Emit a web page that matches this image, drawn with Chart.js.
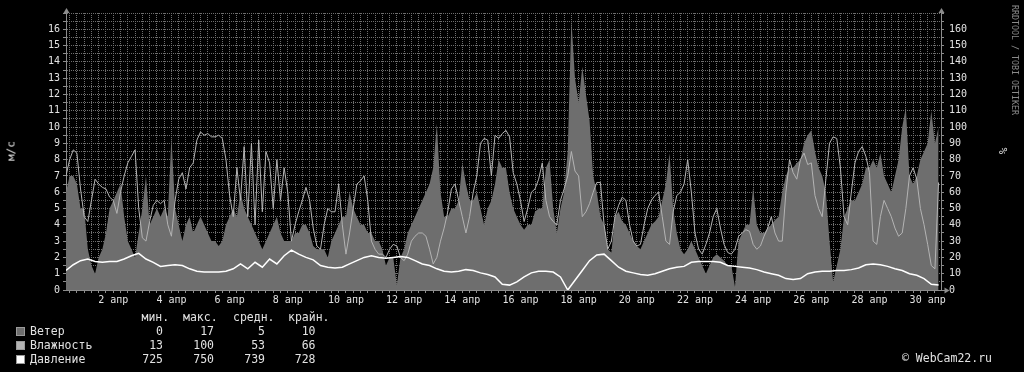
<!DOCTYPE html>
<html>
<head>
<meta charset="utf-8">
<style>
  html, body { margin: 0; padding: 0; background: #000; }
  #wrap { position: relative; width: 1024px; height: 372px; overflow: hidden;
          font-family: "DejaVu Sans Mono", monospace; color: #e2e2e2; }
  #wrap canvas { position: absolute; left: 0; top: 0; }
  .t { position: absolute; white-space: pre; font-size: 11.5px; line-height: 14px; }
  .num { position: absolute; white-space: pre; font-size: 11.5px; line-height: 14px; text-align: right; }
  .box { position: absolute; left: 16px; width: 7px; height: 7px; border: 1px solid #9a9a9a; }
  .vert { position: absolute; white-space: pre; transform: translate(-50%, -50%) rotate(-90deg); }
</style>
</head>
<body>
<div id="wrap">
  <canvas id="chart" width="1024" height="372"></canvas>
  <div id="legend"></div>
  <div class="vert" style="left:10.5px; top:151px; font-size:11px;">м/с</div>
  <div class="vert" style="left:1003px; top:151px; font-size:11px;">%</div>
  <div class="vert" style="left:1015px; top:60px; font-size:8.3px; color:#8a8a8a; transform: translate(-50%, -50%) rotate(90deg);">RRDTOOL / TOBI OETIKER</div>
  <div class="t" style="left:902px; top:351px;">© WebCam22.ru</div>
</div>

<script src="https://cdn.jsdelivr.net/npm/chart.js"></script>
<script>

    // time is in hours from 31 mar 00:00
    const START_H = 9;
    const END_H = 731;

    // wind, m/s, every 3 hours from 31 mar 09:00
    const wind = [
        6, 7, 7, 6.5, 5, 5, 2.5, 1.5, 1, 2,
        2.5, 3.5, 5, 5.5, 6, 6.5, 4.5, 3, 2.5, 2,
        3.5, 5, 7, 4, 4.5, 5, 4.5, 5, 4.5, 9.4,
        5, 4, 3, 4, 4.5, 3.5, 4, 4.5, 4, 3.5,
        3, 3, 2.7, 3, 4, 4.5, 5, 4.5, 6, 5,
        4.5, 4, 3.5, 3, 2.5, 3, 3.5, 4, 4.5, 3.5,
        3, 3, 3, 3.5, 3.5, 4, 4, 3.5, 2.7, 2.5,
        2.5, 2.5, 2, 3, 3.5, 4, 4.5, 4.5, 6, 5,
        4.5, 4, 4, 3.5, 3.5, 3, 3, 2.5, 1.5, 2,
        2, 0.3, 2, 2.5, 3.5, 4, 4.5, 5, 5.5, 6,
        6.5, 7.5, 10.2, 6, 4.5, 4.5, 5, 5, 5.5, 7.8,
        6.5, 5.5, 5.5, 6, 5, 4, 5, 5.5, 6.5, 8,
        7.5, 7.5, 6, 5, 4.5, 4, 3.7, 4, 4, 4.8,
        5, 5, 7.5, 8, 5, 3.5, 5, 6, 8.5, 16.6,
        13, 11.5, 13.7, 12, 10.4, 7, 6, 4.5, 4, 2.5,
        2.3, 4.5, 4.8, 4.2, 4, 3.5, 3, 2.7, 2.5, 3,
        3.5, 4, 4.2, 4.5, 5.5, 6.5, 8.4, 5, 3.5, 2.5,
        2.2, 2.5, 3, 2.5, 2, 1.5, 1, 1.5, 2, 2.2,
        2, 1.8, 1.5, 1.5, 0.2, 3, 3.5, 4, 4, 6.3,
        4, 3.5, 3.5, 3.8, 4, 4.3, 4.5, 6, 7, 7.5,
        7.5, 7.8, 8, 9, 9.5, 9.8, 8.5, 7.5, 7, 6,
        3, 0.5, 1.5, 2.5, 4.5, 5, 5.5, 5.5, 6, 6.5,
        7.5, 7.5, 8, 7.5, 8.4, 7, 6.5, 6, 7, 8,
        10, 11.2, 7, 6.5, 7, 8, 8.5, 9, 11, 9, 10
    ];

    // humidity, %, same times as wind
    const humidity = [
        70, 80, 86, 84, 62, 45, 42, 55, 68, 65,
        63, 62, 57, 55, 47, 60, 70, 78, 82, 86,
        50, 32, 30, 42, 52, 55, 53, 55, 40, 33,
        55, 68, 72, 62, 75, 78, 92, 97, 95, 96,
        94, 94, 95, 93, 80, 58, 45, 75, 55, 88,
        45, 90, 40, 92, 48, 85, 78, 50, 80, 55,
        75, 60, 30, 40, 48, 55, 63, 55, 38, 27,
        25, 40, 50, 48, 48, 65, 40, 22, 35, 50,
        65, 67, 70, 55, 30, 25, 22, 22, 20, 25,
        28, 27, 20, 18, 22, 30, 33, 35, 35, 33,
        25, 16, 20, 30, 38, 48, 62, 65, 55, 45,
        35, 45, 60, 70, 90, 93, 92, 70, 95, 93,
        96, 98, 94, 72, 65, 55, 42, 50, 60, 62,
        68, 78, 55, 45, 42, 40, 55, 62, 70, 85,
        73, 70, 45, 48, 53, 60, 66, 66, 40, 25,
        30, 45, 52, 57, 55, 40, 30, 27, 28, 40,
        50, 55, 58, 60, 45, 30, 28, 48, 58, 60,
        65, 80, 60, 35, 25, 22, 28, 35, 45, 50,
        38, 28, 23, 22, 25, 33, 35, 37, 36, 28,
        25, 27, 33, 38, 45, 35, 30, 30, 60, 80,
        72, 68, 80, 84, 77, 78, 58, 50, 45, 68,
        90, 94, 93, 75, 45, 40, 60, 78, 85, 88,
        82, 72, 30, 28, 45, 55, 50, 45, 38, 33,
        35, 50, 70, 75, 68, 50, 40, 28, 15, 13, 66
    ];

    // pressure, mm Hg, every 6 hours from 31 mar 09:00
    const pressure = [
        737, 740.5, 743, 744, 742.5, 742, 742.5, 742.5, 744, 746,
        747.5, 744, 742, 739.5, 740, 740.5, 740, 738, 736.5, 736,
        736, 736, 736.5, 738, 741, 738, 742, 739, 744, 741,
        746, 749.5, 747, 745, 743.5, 740, 739, 738.5, 739, 741,
        743, 745, 746, 745, 744.5, 745, 745.5, 745, 743, 741,
        740, 738, 736.5, 736, 736.5, 737.5, 737, 735.5, 734.5, 733,
        728.5, 728, 730, 733, 735.5, 736.5, 736.5, 736, 733, 725,
        731, 737, 743, 746.5, 747, 743, 739, 736.5, 735.5, 734.5,
        734, 735, 736.5, 738, 739, 739.5, 742, 742.5, 742.5, 742.5,
        742, 740, 739.5, 739, 738.5, 737.5, 736, 735, 734, 732,
        731.5, 732, 735, 736, 736.5, 736.5, 737, 737, 737.5, 738.5,
        740.5, 741, 740.5, 739.5, 738, 737, 735, 734, 732, 728.5,
        728
    ];

    const legendNames = ['Ветер', 'Влажность', 'Давление'];
    const legendColors = ['#6e6e6e', '#b4b4b4', '#ffffff'];
    const legendHeads = ['мин.', 'макс.', 'средн.', 'крайн.'];
    const statMin = [0, 13, 725];
    const statMax = [17, 100, 750];
    const statAvg = [5, 53, 739];
    const statLast = [10, 66, 728];

    let windHours = [];
    for (let i = 0; i < wind.length; i++) windHours.push(START_H + i * 3);
    let pressHours = [];
    for (let i = 0; i < pressure.length; i++) pressHours.push(START_H + i * 6);
    let gridHours = [];
    for (let h = 12; h < END_H; h += 6) gridHours.push(h);

    // legend below the plot
    let lg = document.getElementById('legend');
    let html = '';
    const headLeft = [141.5, 183, 233, 288];
    for (let j = 0; j < legendHeads.length; j++) {
        html += '<div class="t" style="left:' + headLeft[j] + 'px; top:309.5px;">' + legendHeads[j] + '</div>';
    }
    const colRight = [163, 214, 265, 315.5];
    for (let i = 0; i < legendNames.length; i++) {
        let top = 323.5 + i * 14;
        html += '<div class="box" style="top:' + (top + 3) + 'px; background:' + legendColors[i] + ';"></div>';
        html += '<div class="t" style="left:30px; top:' + top + 'px;">' + legendNames[i] + '</div>';
        let vals = [statMin[i], statMax[i], statAvg[i], statLast[i]];
        for (let j = 0; j < vals.length; j++) {
            html += '<div class="num" style="right:' + (1024 - colRight[j]) + 'px; top:' + top + 'px;">' + vals[j] + '</div>';
        }
    }
    lg.innerHTML = html;

    const axisArrows = {
        id: 'axisArrows',
        afterDraw(chart) {
            const c = chart.ctx;
            const a = chart.chartArea;
            c.save();
            c.fillStyle = '#8c8c8c';
            c.strokeStyle = '#8c8c8c';
            c.lineWidth = 1;
            c.beginPath();
            c.moveTo(a.right, a.bottom + 0.5);
            c.lineTo(a.right + 4, a.bottom + 0.5);
            c.stroke();
            [a.left + 0.5, a.right + 0.5].forEach(function (x) {
                c.beginPath();
                c.moveTo(x - 3, a.top);
                c.lineTo(x + 3, a.top);
                c.lineTo(x, a.top - 5);
                c.closePath();
                c.fill();
            });
            c.beginPath();
            c.moveTo(a.right + 3.5, a.bottom + 0.5 - 3);
            c.lineTo(a.right + 3.5, a.bottom + 0.5 + 3);
            c.lineTo(a.right + 8.5, a.bottom + 0.5);
            c.closePath();
            c.fill();
            c.restore();
        }
    };

    const tickFont = {family: 'DejaVu Sans Mono', size: 10};

    new Chart(document.getElementById('chart'), {
        type: 'line',
        data: {
            datasets: [{
                label: 'Ветер',
                data: wind.map((v, i) => ({x: windHours[i], y: v})),
                yAxisID: 'y',
                fill: 'origin',
                backgroundColor: '#6e6e6e',
                borderWidth: 0,
                pointRadius: 0,
                tension: 0,
                order: 3
            }, {
                label: 'Влажность',
                data: humidity.map((v, i) => ({x: windHours[i], y: v})),
                yAxisID: 'yH',
                fill: false,
                borderColor: '#b4b4b4',
                borderWidth: 1,
                pointRadius: 0,
                tension: 0,
                order: 2
            }, {
                label: 'Давление',
                data: pressure.map((v, i) => ({x: pressHours[i], y: v})),
                yAxisID: 'yP',
                fill: false,
                borderColor: '#ffffff',
                borderWidth: 1.5,
                pointRadius: 0,
                tension: 0,
                order: 1
            }]
        },
        options: {
            responsive: false,
            animation: false,
            devicePixelRatio: 1,
            layout: {padding: {top: 13, left: 0, right: 0, bottom: 0}},
            plugins: {legend: {display: false}, tooltip: {enabled: false}},
            scales: {
                x: {
                    type: 'linear',
                    min: START_H,
                    max: END_H,
                    z: 1,
                    afterBuildTicks: s => { s.ticks = gridHours.map(v => ({value: v})); },
                    afterFit: s => { s.height = 82; },
                    ticks: {
                        autoSkip: false, maxRotation: 0, minRotation: 0, padding: 1,
                        color: '#e2e2e2', font: tickFont,
                        callback: v => (v % 48 === 0 ? (v / 24) + ' апр' : '')
                    },
                    grid: {color: '#6e6e6e', lineWidth: 1, tickLength: 3, tickColor: '#8c8c8c'},
                    border: {display: true, color: '#8c8c8c', dash: [1, 1]}
                },
                y: {
                    position: 'left',
                    min: 0,
                    max: 17,
                    z: 1,
                    afterFit: s => { s.width = 66; },
                    ticks: {
                        stepSize: 0.5, autoSkip: false, padding: 3,
                        color: '#e2e2e2', font: tickFont,
                        callback: v => (Number.isInteger(v) && v < 17 ? String(v) : '')
                    },
                    grid: {color: '#6e6e6e', lineWidth: 1, tickLength: 3, tickColor: '#8c8c8c'},
                    border: {display: true, color: '#8c8c8c', dash: [1, 1]}
                },
                yH: {
                    position: 'right',
                    min: 0,
                    max: 170,
                    z: 1,
                    afterFit: s => { s.width = 83; },
                    ticks: {
                        stepSize: 5, autoSkip: false, padding: 5,
                        color: '#e2e2e2', font: tickFont,
                        callback: v => (v % 10 === 0 && v < 170 ? String(v) : '')
                    },
                    grid: {drawOnChartArea: false, tickLength: 3, tickColor: '#8c8c8c'},
                    border: {display: true, color: '#8c8c8c'}
                },
                yP: {
                    display: false,
                    min: 725,
                    max: 895
                }
            }
        },
        plugins: [axisArrows]
    });

</script>
</body>
</html>
